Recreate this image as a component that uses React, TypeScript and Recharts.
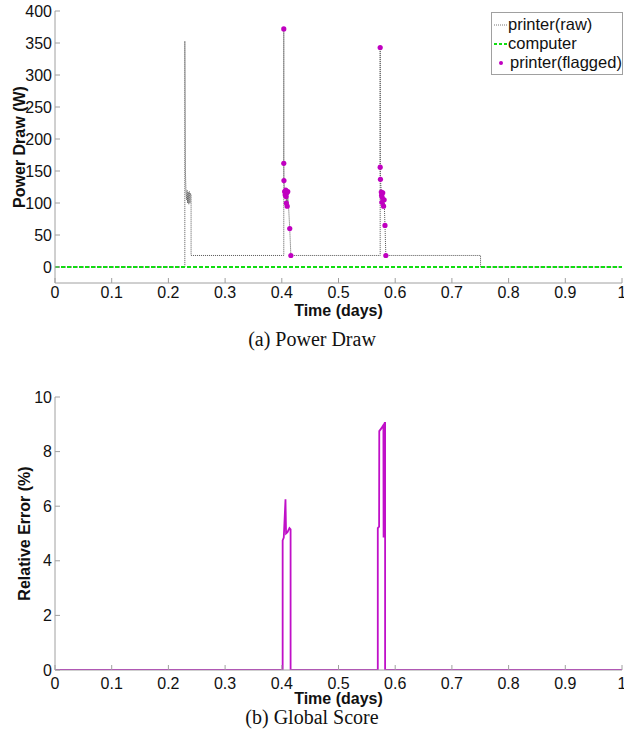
import { ComposedChart, LineChart, Line, Scatter, XAxis, YAxis, Legend } from 'recharts';

const timeTicks = [0, 0.1, 0.2, 0.3, 0.4, 0.5, 0.6, 0.7, 0.8, 0.9, 1];
const powerTicks = [0, 50, 100, 150, 200, 250, 300, 350, 400];
const errorTicks = [0, 2, 4, 6, 8, 10];

// printer, raw trace (days, W)
const rawTime = [
  0, 0.229, 0.229, 0.23, 0.231, 0.232, 0.233, 0.234, 0.235, 0.236, 0.237, 0.238, 0.239, 0.24, 0.24,
  0.4035, 0.4035, 0.4035, 0.4038, 0.405, 0.406, 0.407, 0.4075, 0.408, 0.409, 0.4095, 0.4105, 0.414, 0.416,
  0.5735, 0.5735, 0.5735, 0.574, 0.5755, 0.576, 0.5765, 0.577, 0.578, 0.5795, 0.5805, 0.582, 0.5835,
  0.7505, 0.7505, 1,
];
const rawPower = [
  0, 0, 353, 150, 118, 105, 120, 100, 117, 98, 118, 100, 115, 112, 18,
  18, 372, 162, 135, 118, 113, 120, 110, 100, 116, 95, 118, 60, 18,
  18, 343, 156, 137, 117, 112, 101, 109, 116, 95, 105, 65, 18,
  18, 0, 0,
];

// points flagged by the detector
const flaggedTime = [
  0.4035, 0.4035, 0.4038, 0.405, 0.406, 0.407, 0.4075, 0.408, 0.409, 0.4095, 0.4105, 0.414, 0.416,
  0.5735, 0.5735, 0.574, 0.5755, 0.576, 0.5765, 0.577, 0.578, 0.5795, 0.5805, 0.582, 0.5835,
];
const flaggedPower = [
  372, 162, 135, 118, 113, 120, 110, 100, 116, 95, 118, 60, 18,
  343, 156, 137, 117, 112, 101, 109, 116, 95, 105, 65, 18,
];

const computerTime = [0, 1];
const computerPower = [0, 0];

// global score, relative error (%)
const errorTime = [
  0, 0.4015, 0.4015, 0.4035, 0.4065, 0.4075, 0.41, 0.4135, 0.4155, 0.4155,
  0.5693, 0.5693, 0.5716, 0.5719, 0.5755, 0.5785, 0.5792, 0.5795, 0.5798, 0.5815, 0.5822, 0.5822, 1,
];
const errorPct = [
  0, 0, 4.75, 4.85, 6.25, 5.0, 5.05, 5.2, 5.15, 0,
  0, 5.2, 5.25, 8.75, 8.85, 8.95, 8.9, 4.85, 8.95, 9.05, 9.05, 0, 0,
];

const rows = (ts: number[], vs: number[]) => ts.map((t, i) => ({ t, v: vs[i] }));

const rawData = rows(rawTime, rawPower);
const flaggedData = rows(flaggedTime, flaggedPower);
const computerData = rows(computerTime, computerPower);
const errorData = rows(errorTime, errorPct);

const FONT = '"Liberation Sans", Arial, sans-serif';
const AXIS = '#a0a0a0';
const tickStyle = { fontSize: 16, fill: '#111', fontFamily: FONT };
const fmtTime = (v: number) => String(Number(v.toFixed(1)));

const yTitle = (text: string, x: number) => (props: any) => {
  const vb = props.viewBox;
  const cy = vb.y + vb.height / 2;
  return (
    <text x={x} y={cy} transform={`rotate(-90 ${x} ${cy})`} textAnchor="middle" dominantBaseline="central"
      fontFamily={FONT} fontWeight="bold" fontSize={16} fill="#111">{text}</text>
  );
};

const xTitle = (dy: number) => (props: any) => {
  const vb = props.viewBox;
  return (
    <text x={vb.x + vb.width / 2} y={vb.y + dy} textAnchor="middle" dominantBaseline="central"
      fontFamily={FONT} fontWeight="bold" fontSize={16} fill="#111">Time (days)</text>
  );
};

function PowerLegend() {
  const row = { display: 'flex', alignItems: 'center', height: 19, whiteSpace: 'nowrap' as const };
  return (
    <div style={{ width: 129, border: `1px solid ${AXIS}`, background: '#fff', padding: '2px 0 2px 1px', fontFamily: FONT, fontSize: 16.5, color: '#111' }}>
      <div style={row}>
        <svg width={14} height={10} style={{ flex: 'none' }}><line x1={1} y1={5} x2={14} y2={5} stroke="#777" strokeDasharray="1 1" /></svg>
        <span style={{ marginLeft: 1 }}>printer(raw)</span>
      </div>
      <div style={row}>
        <svg width={14} height={10} style={{ flex: 'none' }}><line x1={1} y1={5} x2={14} y2={5} stroke="#11dd11" strokeWidth={2} strokeDasharray="3 2" /></svg>
        <span style={{ marginLeft: 1 }}>computer</span>
      </div>
      <div style={row}>
        <svg width={14} height={10} style={{ flex: 'none' }}><circle cx={8} cy={5} r={2} fill="#c000c0" /></svg>
        <span style={{ marginLeft: 3 }}>printer(flagged)</span>
      </div>
    </div>
  );
}

const dot = (p: any) => <circle cx={p.cx} cy={p.cy} r={2.6} fill="#c000c0" />;

const caption = (text: string, top: number) => (
  <div style={{ position: 'absolute', left: 0, width: 624, top, textAlign: 'center', fontFamily: '"Liberation Serif", "Times New Roman", serif', fontSize: 20, color: '#111' }}>{text}</div>
);

export default function App() {
  return (
    <div style={{ position: 'absolute', left: 0, top: 0, width: 624, height: 740, background: '#fff' }}>
      <div style={{ position: 'absolute', left: 0, top: 0 }}>
        <ComposedChart width={624} height={320} margin={{ top: 11, right: 2, left: 0, bottom: 0 }}>
          <XAxis dataKey="t" type="number" domain={[0, 1]} ticks={timeTicks} tickFormatter={fmtTime}
            height={37} stroke={AXIS} tick={tickStyle} tickSize={-5} tickMargin={9} allowDataOverflow
            interval={0} label={xTitle(27)} />
          <XAxis xAxisId="top" orientation="top" type="number" domain={[0, 1]} ticks={timeTicks}
            height={0} stroke={AXIS} tick={false} tickSize={-5} interval={0} />
          <YAxis type="number" domain={[-25, 400]} ticks={powerTicks} width={55} stroke={AXIS}
            tick={tickStyle} tickSize={-5} tickMargin={8} allowDataOverflow interval={0}
            label={yTitle('Power Draw (W)', 19)} />
          <YAxis yAxisId="r" orientation="right" type="number" domain={[-25, 400]} ticks={powerTicks}
            width={0} stroke={AXIS} tick={false} tickSize={-5} interval={0} />
          <Legend content={<PowerLegend />} layout="horizontal" verticalAlign="middle" align="center"
            wrapperStyle={{ top: 12, right: 1, left: 'auto', width: 'auto' }} />
          <Line data={rawData} dataKey="v" name="printer(raw)" type="linear" stroke="#555"
            strokeWidth={1} strokeDasharray="1 1" dot={false} isAnimationActive={false} />
          <Line data={computerData} dataKey="v" name="computer" type="linear" stroke="#11dd11"
            strokeWidth={1.8} strokeDasharray="4 2" dot={false} isAnimationActive={false} />
          <Scatter data={flaggedData} dataKey="v" name="printer(flagged)" fill="#c000c0" shape={dot}
            isAnimationActive={false} />
        </ComposedChart>
      </div>
      {caption('(a) Power Draw', 328)}
      <div style={{ position: 'absolute', left: 0, top: 380 }}>
        <LineChart width={624} height={340} data={errorData} margin={{ top: 17, right: 2, left: 0, bottom: 0 }}>
          <XAxis dataKey="t" type="number" domain={[0, 1]} ticks={timeTicks} tickFormatter={fmtTime}
            height={50} stroke={AXIS} tick={tickStyle} tickSize={-5} tickMargin={13} allowDataOverflow
            interval={0} label={xTitle(28)} />
          <XAxis xAxisId="top" orientation="top" type="number" domain={[0, 1]} ticks={timeTicks}
            height={0} stroke={AXIS} tick={false} tickSize={-5} interval={0} />
          <YAxis type="number" domain={[0, 10]} ticks={errorTicks} width={55} stroke={AXIS}
            tick={tickStyle} tickSize={-5} tickMargin={8} allowDataOverflow interval={0}
            label={yTitle('Relative Error (%)', 24)} />
          <YAxis yAxisId="r" orientation="right" type="number" domain={[0, 10]} ticks={errorTicks}
            width={0} stroke={AXIS} tick={false} tickSize={-5} interval={0} />
          <Line dataKey="v" type="linear" stroke="#c010c8" strokeWidth={1.8} dot={false}
            isAnimationActive={false} />
        </LineChart>
      </div>
      {caption('(b) Global Score', 706)}
    </div>
  );
}
